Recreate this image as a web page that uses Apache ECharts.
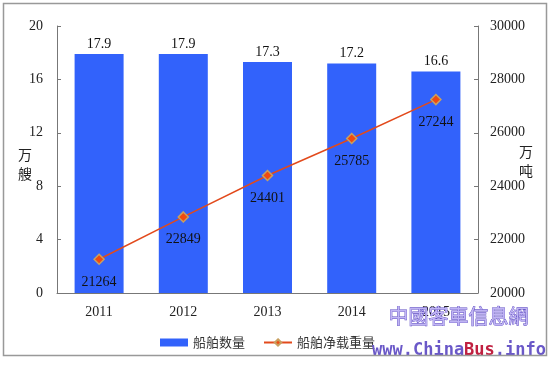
<!DOCTYPE html>
<html><head><meta charset="utf-8">
<script src="https://cdn.jsdelivr.net/npm/echarts@6/dist/echarts.min.js"></script>
<style>html,body{margin:0;padding:0;background:#fff}#c{width:550px;height:365px}</style>
</head><body><div id="c"></div>
<script>
const categories = ['2011','2012','2013','2014','2015'];
const shipCount = [17.9, 17.9, 17.3, 17.2, 16.6];
const netTonnage = [21264, 22849, 24401, 25785, 27244];
const leftTicks = [0, 4, 8, 12, 16, 20];
const rightTicks = [20000, 22000, 24000, 26000, 28000, 30000];

const serif = '"Liberation Serif","DejaVu Serif",serif';
const cjk = '"Noto Sans CJK SC","Noto Sans",sans-serif';
const chart = echarts.init(document.getElementById('c'));
chart.setOption({
  animation: false,
  backgroundColor: '#fff',
  grid: { left: 57, right: 72, top: 26, bottom: 72 },
  legend: {
    bottom: 11, left: 155, itemGap: 18, itemWidth: 28, itemHeight: 8,
    textStyle: { fontFamily: cjk, fontSize: 13, color: '#333' },
    data: [
      { name: '船舶数量', icon: 'rect' },
      { name: '船舶净载重量' }
    ]
  },
  xAxis: {
    type: 'category', data: categories,
    axisLine: { lineStyle: { color: '#777', width: 1 } },
    axisTick: { inside: true, length: 5, lineStyle: { color: '#777' } },
    axisLabel: { fontFamily: serif, fontSize: 14, color: '#222', margin: 12 }
  },
  yAxis: [
    {
      type: 'value', min: 0, max: 20, interval: 4,
      axisLine: { show: true, lineStyle: { color: '#777' } },
      axisTick: { show: true, inside: true, length: 4, lineStyle: { color: '#777' } },
      axisLabel: { fontFamily: serif, fontSize: 14, color: '#222', margin: 14,
        formatter: v => leftTicks.includes(v) ? String(v) : '' },
      splitLine: { show: false }
    },
    {
      type: 'value', min: 20000, max: 30000, interval: 2000,
      axisLine: { show: true, lineStyle: { color: '#777' } },
      axisTick: { show: true, inside: true, length: 4, lineStyle: { color: '#777' } },
      axisLabel: { fontFamily: serif, fontSize: 14, color: '#222', margin: 12,
        formatter: v => rightTicks.includes(v) ? String(v) : '' },
      splitLine: { show: false }
    }
  ],
  series: [
    {
      name: '船舶数量', type: 'bar', data: shipCount, barWidth: 49,
      itemStyle: { color: '#3262fb' },
      label: { show: true, position: 'top', distance: 3, fontFamily: serif, fontSize: 14, color: '#111' }
    },
    {
      name: '船舶净载重量', type: 'line', yAxisIndex: 1, data: netTonnage,
      lineStyle: { color: '#e24a1c', width: 1.5 },
      itemStyle: { color: '#f04a10', borderColor: '#c8a060', borderWidth: 1.5 },
      symbol: 'diamond', symbolSize: 10,
      label: { show: true, position: 'bottom', distance: 10, fontFamily: serif, fontSize: 14, color: '#111' }
    }
  ],
  graphic: [
    { type: 'rect', shape: { x: 3.5, y: 3.5, width: 543, height: 352 }, style: { fill: 'none', stroke: '#999', lineWidth: 1.5 }, z: 100 },
    { type: 'text', left: 18, top: 145, style: { text: '万\n艘', font: '14px "Noto Sans CJK SC"', fill: '#222', lineHeight: 19 } },
    { type: 'text', left: 519, top: 142, style: { text: '万\n吨', font: '14px "Noto Sans CJK SC"', fill: '#222', lineHeight: 19 } },
    { type: 'text', left: 388, top: 306, style: { text: '中國客車信息網', font: '20px "Noto Sans CJK TC"', fill: '#c0b4f4', stroke: '#5a48c0', lineWidth: 0.8 }, z: 50 },
    { type: 'text', left: 372, top: 342, style: { rich: {
        a: { font: 'bold 17px "DejaVu Sans Mono"', fill: '#6a58c8' },
        b: { font: 'bold 17px "DejaVu Sans Mono"', fill: '#c02040' }
      }, text: '{a|www.China}{b|Bus}{a|.info}' }, z: 50 }
  ]
});
</script></body></html>
